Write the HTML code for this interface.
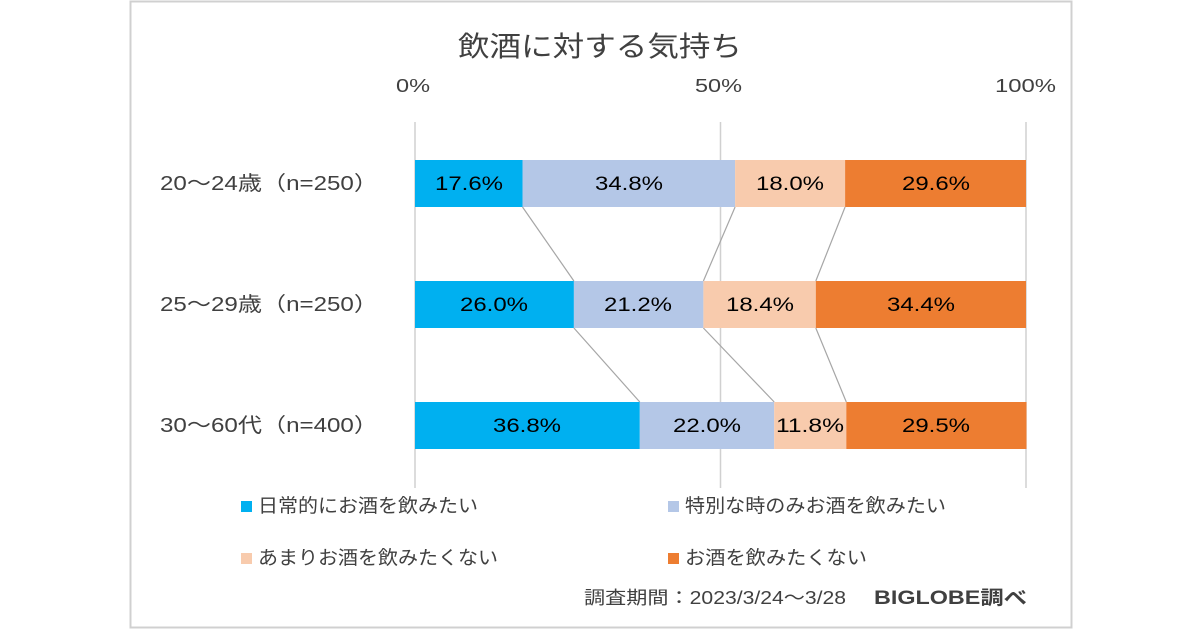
<!DOCTYPE html>
<html><head><meta charset="utf-8"><style>
body{margin:0;width:1200px;height:630px;background:#fff;overflow:hidden}
svg{display:block}
text{font-family:"Liberation Sans","Noto Sans CJK JP",sans-serif}
</style></head><body>
<svg width="1200" height="630" xmlns="http://www.w3.org/2000/svg">
<rect x="130.5" y="1.5" width="941" height="626" fill="#fff" stroke="#d0d0d0" stroke-width="2"/>
<text x="458" y="56" font-size="28" fill="#404040" textLength="284" lengthAdjust="spacingAndGlyphs">飲酒に対する気持ち</text>
<g font-size="18" fill="#404040">
<text x="396" y="92" textLength="34" lengthAdjust="spacingAndGlyphs">0%</text><text x="695" y="92" textLength="47" lengthAdjust="spacingAndGlyphs">50%</text><text x="995" y="92" textLength="61" lengthAdjust="spacingAndGlyphs">100%</text>
</g>
<g stroke="#d0d0d0" stroke-width="1.5">
<line x1="415" y1="122" x2="415" y2="488"/><line x1="720.5" y1="122" x2="720.5" y2="488"/><line x1="1026" y1="122" x2="1026" y2="488"/>
</g>
<g stroke="#a6a6a6" stroke-width="1.2">
<line x1="522.5" y1="207" x2="573.9" y2="281"/><line x1="735.1" y1="207" x2="703.4" y2="281"/><line x1="845.1" y1="207" x2="815.8" y2="281"/>
<line x1="573.9" y1="328" x2="639.8" y2="402"/><line x1="703.4" y1="328" x2="774.2" y2="402"/><line x1="815.8" y1="328" x2="846.3" y2="402"/>
</g>
<g>
<rect x="415" y="160" width="107.5" height="47" fill="#00b0f0"/><rect x="522.5" y="160" width="212.6" height="47" fill="#b4c7e7"/><rect x="735.1" y="160" width="110" height="47" fill="#f8cbad"/><rect x="845.1" y="160" width="180.9" height="47" fill="#ed7d31"/>
<rect x="415" y="281" width="158.9" height="47" fill="#00b0f0"/><rect x="573.9" y="281" width="129.5" height="47" fill="#b4c7e7"/><rect x="703.4" y="281" width="112.4" height="47" fill="#f8cbad"/><rect x="815.8" y="281" width="210.2" height="47" fill="#ed7d31"/>
<rect x="415" y="402" width="224.8" height="47" fill="#00b0f0"/><rect x="639.8" y="402" width="134.4" height="47" fill="#b4c7e7"/><rect x="774.2" y="402" width="72.1" height="47" fill="#f8cbad"/><rect x="846.3" y="402" width="180.2" height="47" fill="#ed7d31"/>
</g>
<g font-size="19" fill="#000" text-anchor="middle">
<text x="469" y="190" textLength="68" lengthAdjust="spacingAndGlyphs">17.6%</text><text x="629" y="190" textLength="68" lengthAdjust="spacingAndGlyphs">34.8%</text><text x="790" y="190" textLength="68" lengthAdjust="spacingAndGlyphs">18.0%</text><text x="936" y="190" textLength="68" lengthAdjust="spacingAndGlyphs">29.6%</text>
<text x="494" y="311" textLength="68" lengthAdjust="spacingAndGlyphs">26.0%</text><text x="638" y="311" textLength="68" lengthAdjust="spacingAndGlyphs">21.2%</text><text x="760" y="311" textLength="68" lengthAdjust="spacingAndGlyphs">18.4%</text><text x="921" y="311" textLength="68" lengthAdjust="spacingAndGlyphs">34.4%</text>
<text x="527" y="432" textLength="68" lengthAdjust="spacingAndGlyphs">36.8%</text><text x="707" y="432" textLength="68" lengthAdjust="spacingAndGlyphs">22.0%</text><text x="810" y="432" textLength="68" lengthAdjust="spacingAndGlyphs">11.8%</text><text x="936" y="432" textLength="68" lengthAdjust="spacingAndGlyphs">29.5%</text>
</g>
<g font-size="20" fill="#404040">
<text x="160" y="190" textLength="218" lengthAdjust="spacingAndGlyphs">20～24歳（n=250）</text><text x="160" y="311" textLength="218" lengthAdjust="spacingAndGlyphs">25～29歳（n=250）</text><text x="160" y="432" textLength="218" lengthAdjust="spacingAndGlyphs">30～60代（n=400）</text>
</g>
<g font-size="19" fill="#404040">
<rect x="241" y="501" width="11" height="11" fill="#00b0f0"/><text x="258" y="512" textLength="220" lengthAdjust="spacingAndGlyphs">日常的にお酒を飲みたい</text>
<rect x="668" y="501" width="11" height="11" fill="#b4c7e7"/><text x="685" y="512" textLength="261" lengthAdjust="spacingAndGlyphs">特別な時のみお酒を飲みたい</text>
<rect x="241" y="553" width="11" height="11" fill="#f8cbad"/><text x="258" y="564" textLength="240" lengthAdjust="spacingAndGlyphs">あまりお酒を飲みたくない</text>
<rect x="668" y="553" width="11" height="11" fill="#ed7d31"/><text x="685" y="564" textLength="182" lengthAdjust="spacingAndGlyphs">お酒を飲みたくない</text>
</g>
<text x="584" y="604" font-size="18" fill="#404040" textLength="262" lengthAdjust="spacingAndGlyphs">調査期間：2023/3/24～3/28</text>
<text x="874" y="604" font-size="19" font-weight="bold" fill="#404040" textLength="153" lengthAdjust="spacingAndGlyphs">BIGLOBE調べ</text>
</svg>
</body></html>
